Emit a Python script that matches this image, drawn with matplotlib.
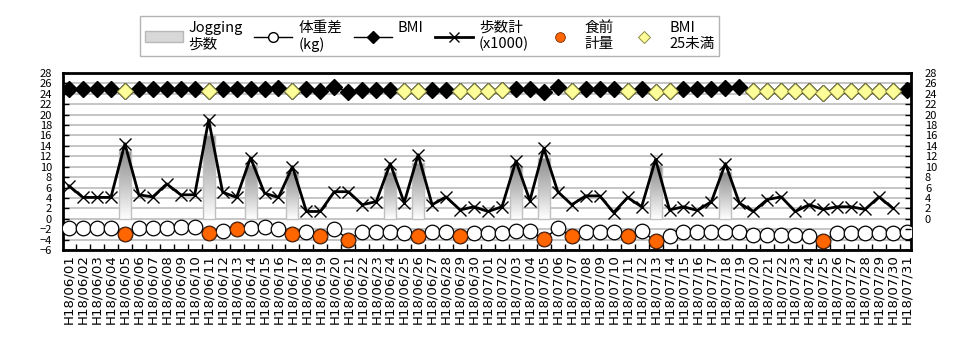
import numpy as np
import matplotlib
matplotlib.use("Agg")
import matplotlib.pyplot as plt
from matplotlib.lines import Line2D
from matplotlib.patches import Patch, Rectangle
from matplotlib.colors import LinearSegmentedColormap

plt.rcParams['font.family'] = ['Noto Sans CJK JP', 'DejaVu Sans']

# ---- data ----
months = [6] * 30 + [7] * 31
days = list(range(1, 31)) + list(range(1, 32))
date_labels = [f"H18/{m:02d}/{d:02d}" for m, d in zip(months, days)]

nan = np.nan
steps = [6.3, 4.1, 4.1, 4.1, 14.4, 4.6, 4.2, 6.7, 4.6, 4.6,
         19.0, 5.1, 4.1, 11.7, 4.9, 4.1, 10.0, 1.4, 1.4, 5.2,
         5.2, 2.7, 3.3, 10.6, 3.1, 12.3, 2.7, 4.2, 1.7, 2.3,
         1.4, 2.3, 11.1, 3.5, 13.5, 5.2, 2.7, 4.4, 4.4, 1.2,
         4.1, 2.3, 11.4, 1.7, 2.3, 1.6, 3.3, 10.6, 3.0, 1.4,
         3.7, 4.2, 1.4, 2.7, 1.8, 2.3, 2.3, 1.8, 4.2, 2.0, nan]

jogging_idx = [4, 10, 13, 16, 23, 25, 32, 34, 42, 47]
jogging_val = [13.0, 16.0, 10.3, 9.0, 9.0, 10.7, 10.1, 11.7, 10.3, 9.0]

weight = [-1.8, -1.8, -1.8, -1.8, -2.9, -1.8, -1.8, -1.8, -1.5, -1.5,
          -2.8, -2.4, -1.9, -1.8, -1.5, -1.9, -2.9, -2.5, -3.4, -1.9,
          -4.0, -2.5, -2.5, -2.5, -2.7, -3.4, -2.5, -2.5, -3.4, -2.7,
          -2.7, -2.7, -2.4, -2.4, -3.9, -1.8, -3.4, -2.5, -2.5, -2.5,
          -3.4, -2.4, -4.3, -3.4, -2.5, -2.5, -2.5, -2.5, -2.5, -3.2,
          -3.2, -3.2, -3.2, -3.4, -4.3, -2.7, -2.7, -2.7, -2.7, -2.7, -2.5]

premeal_idx = [4, 10, 12, 16, 18, 20, 25, 28, 34, 36, 40, 42, 54]

bmi = [25.0, 25.0, 25.0, 25.0, 24.6, 25.0, 25.0, 25.0, 25.0, 25.0,
       24.6, 25.0, 25.0, 25.0, 25.0, 25.1, 24.6, 25.0, 24.5, 25.4,
       24.3, 24.8, 24.8, 24.8, 24.6, 24.5, 24.8, 24.8, 24.6, 24.6,
       24.6, 24.8, 25.0, 25.0, 24.3, 25.3, 24.6, 25.0, 25.0, 25.0,
       24.6, 25.0, 24.3, 24.6, 25.0, 25.0, 25.0, 25.1, 25.3, 24.6,
       24.6, 24.6, 24.6, 24.6, 24.1, 24.6, 24.6, 24.6, 24.6, 24.6, 24.8]

bmi_under25_idx = [4, 10, 16, 24, 25, 28, 29, 30, 31, 36, 40, 42, 43,
                   49, 50, 51, 52, 53, 54, 55, 56, 57, 58, 59]

left_ticks = list(range(-6, 29, 2))
right_ticks = list(range(0, 29, 2))

# ---- figure ----
W, H = 961, 350
fig = plt.figure(figsize=(W / 100, H / 100), dpi=100)
ax = fig.add_axes([63 / W, 100 / H, 848 / W, 177 / H])

x = np.arange(len(date_labels))
weight_a = np.array(weight)
bmi_a = np.array(bmi)

# grid
ax.set_yticks(left_ticks)
ax.yaxis.grid(True, color='#c0c0c0', lw=1.3, zorder=0)
ax.set_axisbelow(True)

# jogging gradient bars
cmap = LinearSegmentedColormap.from_list('g', ['#ffffff', '#c4c4c4', '#8e8e8e'])
grad = np.linspace(0, 1, 100).reshape(-1, 1)
bw = 0.86
for i, h in zip(jogging_idx, jogging_val):
    ax.imshow(grad, extent=[i - bw / 2, i + bw / 2, 0, h], origin='lower',
              aspect='auto', cmap=cmap, vmin=0, vmax=1, zorder=1,
              interpolation='bilinear')
    ax.add_patch(Rectangle((i - bw / 2, 0), bw, h, fill=False,
                           edgecolor='#c0c0c0', lw=1.0, zorder=1.1))

# steps
ax.plot(x, steps, color='black', lw=2.0, marker='x', ms=9, mew=1.0,
        mec='black', zorder=3)

# weight difference
ax.plot(x, weight, color='black', lw=1.0, marker='o', ms=10.5,
        mfc='white', mec='black', mew=0.9, zorder=4)
ax.plot(premeal_idx, weight_a[premeal_idx], ls='none', marker='o', ms=10,
        mfc='#ff6600', mec='#7a2a00', mew=0.6, zorder=5)

# BMI
ax.plot(x, bmi, color='black', lw=1.0, marker='D', ms=7.8, mfc='black',
        mec='black', zorder=4)
ax.plot(bmi_under25_idx, bmi_a[bmi_under25_idx], ls='none', marker='D',
        ms=7.8, mfc='#ffff99', mec='#8a8a40', mew=0.7, zorder=5)

ax.set_xlim(-0.43, 60.29)
ax.set_ylim(-6, 28)

# spines
for s in ax.spines.values():
    s.set_linewidth(2.0)
    s.set_color('black')

# x ticks
ax.set_xticks(x)
ax.set_xticklabels(date_labels, rotation=90, fontsize=9.6,
                   family=['DejaVu Sans'])
ax.tick_params(axis='x', which='major', length=0, pad=3)
ax.set_xticks(x[:-1] + 0.5, minor=True)
ax.tick_params(axis='x', which='minor', direction='in', length=4, width=1)

ax.tick_params(axis='y', direction='in', length=4, width=1, labelsize=8,
               pad=8)

ax2 = ax.twinx()
ax2.set_ylim(-6, 28)
ax2.set_yticks(left_ticks)
ax2.set_yticklabels([str(t) if t in right_ticks else '' for t in left_ticks])
ax2.tick_params(axis='y', direction='in', length=4, width=1, labelsize=8,
                pad=10)
for s in ax2.spines.values():
    s.set_visible(False)

# legend
handles = [
    Patch(facecolor='#d8d8d8', edgecolor='#b8b8b8'),
    Line2D([], [], color='black', lw=1, marker='o', ms=7, mfc='white', mec='black'),
    Line2D([], [], color='black', lw=1, marker='D', ms=6, mfc='black', mec='black'),
    Line2D([], [], color='black', lw=2, marker='x', ms=7, mew=1),
    Line2D([], [], ls='none', marker='o', ms=7, mfc='#ff6600', mec='#7a2a00', mew=0.6),
    Line2D([], [], ls='none', marker='D', ms=6, mfc='#ffff99', mec='#8a8a40', mew=0.7),
]
labels = ['Jogging\n歩数', '体重差\n(kg)', 'BMI\n ', '歩数計\n(x1000)', '食前\n計量', 'BMI\n25未満']
leg = fig.legend(handles, labels, ncol=6, loc='upper left',
                 bbox_to_anchor=(133 / W, 1 - 9 / H), frameon=True,
                 fancybox=False, edgecolor='#a0a0a0', fontsize=10.5,
                 handlelength=2.6, columnspacing=0.8, handletextpad=0.4,
                 borderpad=0.3, labelspacing=0.2)
leg.get_frame().set_linewidth(1.0)

fig.savefig('out.png', dpi=100, facecolor='white')
